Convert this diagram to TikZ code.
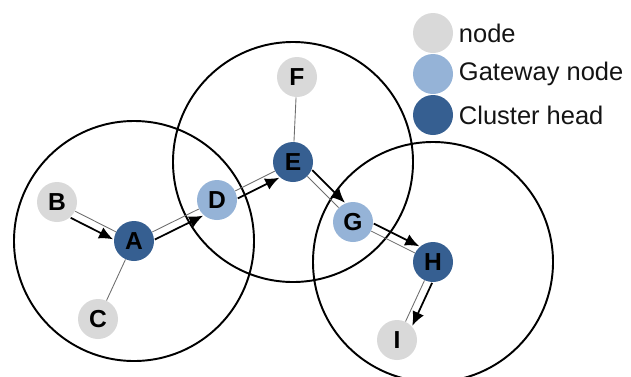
\documentclass[tikz,border=0pt]{standalone}
\usepackage{fontspec}
\setmainfont{Liberation Sans}
\usetikzlibrary{arrows.meta,calc,backgrounds}

\definecolor{membergray}{RGB}{217,217,217}
\definecolor{gatewayblue}{RGB}{149,179,215}
\definecolor{headblue}{RGB}{54,95,145}
\definecolor{linkgray}{RGB}{110,110,110}
\definecolor{keytext}{RGB}{20,20,20}

\tikzset{
    member/.style={circle,fill=membergray,minimum size=0.8cm,inner sep=0pt,font=\fontsize{14}{14}\selectfont\bfseries},
    gateway/.style={member,fill=gatewayblue},
    head/.style={member,fill=headblue},
    link/.style={draw=linkgray,line width=0.5pt},
    % offset arrow beside a link, positive = right of travel
    hop/.style={draw=black,line width=1pt,-{Latex[length=8pt,width=7pt]},
        shorten <=11pt,shorten >=11pt,
        to path={($(\tikztostart)!#1!-90:(\tikztotarget)$) -- ($(\tikztotarget)!#1!90:(\tikztostart)$)}},
    hop/.default=4.5pt,
    keylabel/.style={anchor=west,inner sep=1pt,text=keytext,font=\fontsize{14.5}{17}\selectfont},
}

\begin{document}
\begin{tikzpicture}
    \useasboundingbox (0,0) rectangle (12.62,7.52);

    \begin{scope}
        \node[member]  (B) at (1.14,3.48) {B};
        \node[head]    (A) at (2.68,2.70) {A};
        \node[member]  (C) at (1.96,1.14) {C};
        \node[gateway] (D) at (4.34,3.52) {D};
        \node[head]    (E) at (5.86,4.28) {E};
        \node[member]  (F) at (5.94,5.98) {F};
        \node[gateway] (G) at (7.06,3.08) {G};
        \node[head]    (H) at (8.66,2.28) {H};
        \node[member]  (I) at (7.94,0.72) {I};
    \end{scope}

    % cluster ranges and links behind the nodes
    \begin{scope}[on background layer]
        \draw[line width=1.1pt] (A) circle (2.4) (E) circle (2.4) (H) circle (2.4);
        \draw[link] (B) -- (A) (A) -- (C) (A) -- (D) (D) -- (E)
                    (E) -- (F) (E) -- (G) (G) -- (H) (H) -- (I);
    \end{scope}

    \path (B) edge[hop] (A)
          (A) edge[hop] (D)
          (D) edge[hop] (E)
          (E) edge[hop=-4.5pt] (G)
          (G) edge[hop=-4.5pt] (H)
          (H) edge[hop=-4.5pt] (I);

    % legend
    \node[member]  (keymember)  at (8.66,6.86) {};
    \node[gateway] (keygateway) at (8.66,6.04) {};
    \node[head]    (keyhead)    at (8.66,5.22) {};
    \node[keylabel] (keymembertext)  at ([xshift=2pt]keymember.east)  {node};
    \node[keylabel] (keygatewaytext) at ([xshift=2pt]keygateway.east) {Gateway node};
    \node[keylabel] (keyheadtext)    at ([xshift=2pt]keyhead.east)    {Cluster head};
\end{tikzpicture}
\end{document}
